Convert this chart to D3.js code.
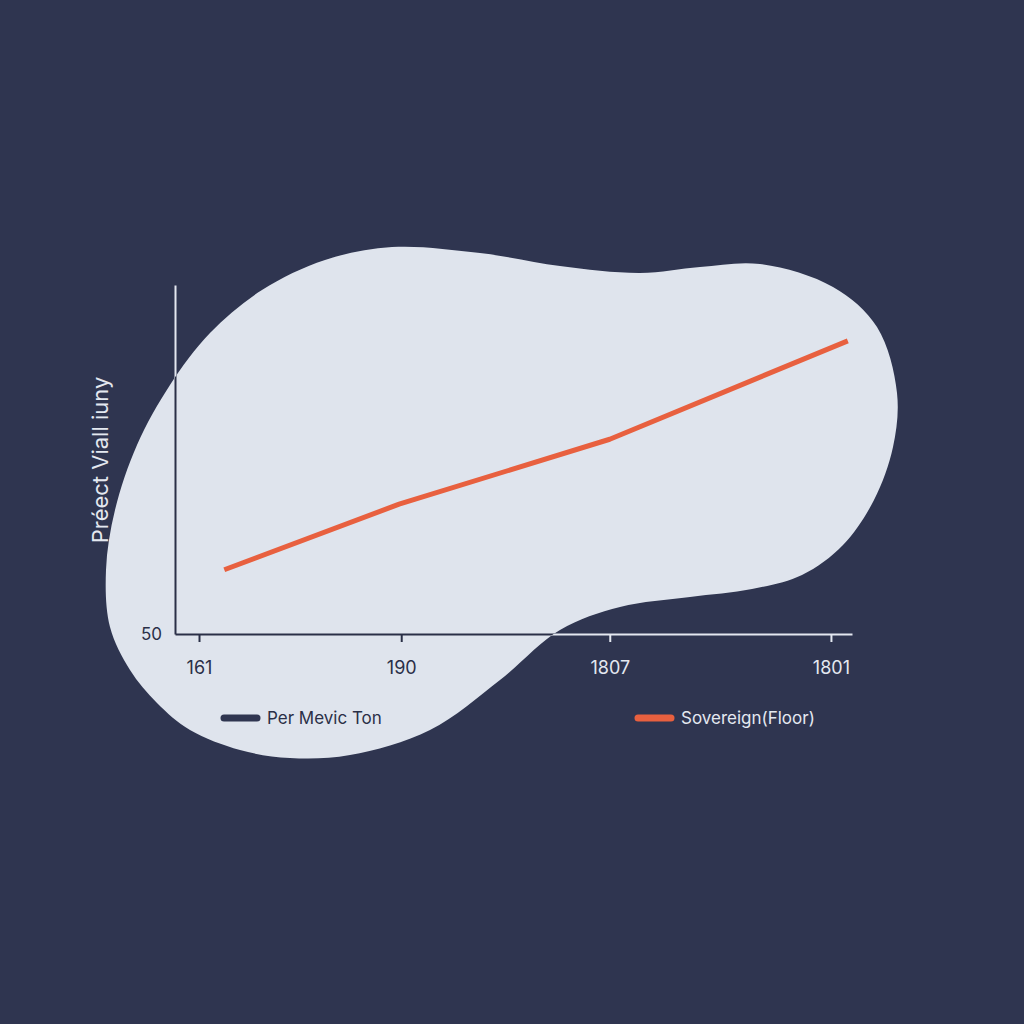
<!DOCTYPE html>
<html lang="en">
<head>
  <meta charset="UTF-8">
  <title>Sovereign (Floor)</title>
  <style>
    html, body {
        margin: 0;
        padding: 0;
        background-color: #2f3550;
    }
    .main {
        width: 1024px;
        height: 1024px;
    }
    text {
        font-family: Inter, "Noto Sans", sans-serif;
    }
  </style>
  <script src="https://cdn.jsdelivr.net/npm/d3@7"></script>
</head>
<body>
    <div class="main"></div>

    <script>

    // data
    var tickPos    = [0, 0.96, 1.95, 3];
    var tickLabels = ["161", "190", "1807", "1801"];
    var lineX      = [0.12, 0.95, 1.95, 3.08];
    var lineY      = [59.2, 68.6, 77.9, 92.0];
    var yTicks     = [50];
    var seriesNames  = ["Per Mevic Ton", "Sovereign(Floor)"];
    var seriesColors = ["#2f3550", "#e8603f"];

    // decorative backdrop shape (pixels)
    var blobPts = [
        [392,247],[480,253],[560,266],[640,273],[700,267],[760,264],[833,287],
        [877,327],[897,393],[893,447],[874,500],[843,545],[802,575],[752,589],
        [690,597],[620,607],[560,630],[500,680],[430,730],[350,755],[290,758],
        [240,750],[190,730],[157,703],[130,670],[110,627],[106,570],[115,510],
        [137,445],[170,385],[210,333],[262,290],[325,260]
    ];

    var width = 1024,
        height = 1024;

    var light = "#e4e8f0",
        dark = "#2a2f47";

    var x = d3.scaleLinear().domain([-0.114, 3.1]).range([175, 852]);
    var y = d3.scaleLinear().domain([50, 100]).range([634, 285]);

    var svg = d3.select(".main").append("svg")
        .attr("width", width)
        .attr("height", height);

    var blobPath = d3.line().curve(d3.curveCatmullRomClosed.alpha(0.5))(blobPts);

    svg.append("defs").append("clipPath")
        .attr("id", "blobClip")
      .append("path")
        .attr("d", blobPath);

    svg.append("path")
        .attr("d", blobPath)
        .attr("fill", "#dfe4ed");

    function drawFrame(g, color) {
        var xAxis = d3.axisBottom(x)
            .tickValues(tickPos)
            .tickFormat(function(d, i) { return tickLabels[i]; })
            .tickSizeInner(8)
            .tickSizeOuter(0)
            .tickPadding(19);

        var yAxis = d3.axisLeft(y)
            .tickValues(yTicks)
            .tickSize(0)
            .tickPadding(13);

        var gx = g.append("g")
            .attr("transform", "translate(0," + y(50) + ")")
            .call(xAxis);
        gx.select(".domain").attr("stroke", color).attr("stroke-width", 2);
        gx.selectAll(".tick line").attr("stroke", color).attr("stroke-width", 2);
        gx.selectAll(".tick text")
            .attr("fill", color)
            .attr("font-size", 18)
            .attr("font-family", "Inter, 'Noto Sans', sans-serif");

        var gy = g.append("g")
            .attr("transform", "translate(" + x.range()[0] + ",0)")
            .call(yAxis);
        gy.select(".domain").attr("stroke", color).attr("stroke-width", 2);
        gy.selectAll(".tick text")
            .attr("fill", color)
            .attr("font-size", 17)
            .attr("font-family", "Inter, 'Noto Sans', sans-serif");

        g.append("text")
            .attr("transform", "translate(108,460) rotate(-90)")
            .attr("text-anchor", "middle")
            .attr("fill", color)
            .attr("font-size", 22)
            .text("Préect Viall iuny");

        var legend = g.selectAll(".legend")
            .data(seriesNames)
          .enter().append("g")
            .attr("class", "legend")
            .attr("transform", function(d, i) { return "translate(" + [224, 638][i] + ",718)"; });

        legend.append("text")
            .attr("x", 43)
            .attr("dy", "0.35em")
            .attr("fill", color)
            .attr("font-size", 17)
            .text(function(d) { return d; });
    }

    drawFrame(svg.append("g"), light);
    drawFrame(svg.append("g").attr("clip-path", "url(#blobClip)"), dark);

    // legend swatches
    svg.selectAll(".swatch")
        .data(seriesNames)
      .enter().append("line")
        .attr("class", "swatch")
        .attr("x1", function(d, i) { return [224, 638][i]; })
        .attr("x2", function(d, i) { return [224, 638][i] + 33; })
        .attr("y1", 718)
        .attr("y2", 718)
        .attr("stroke", function(d, i) { return seriesColors[i]; })
        .attr("stroke-width", 7)
        .attr("stroke-linecap", "round");

    var line = d3.line()
        .x(function(d) { return x(d[0]); })
        .y(function(d) { return y(d[1]); });

    svg.append("path")
        .datum(d3.zip(lineX, lineY))
        .attr("d", line)
        .attr("fill", "none")
        .attr("stroke", seriesColors[1])
        .attr("stroke-width", 5)
        .attr("stroke-linejoin", "round");

    </script>
</body>
</html>
